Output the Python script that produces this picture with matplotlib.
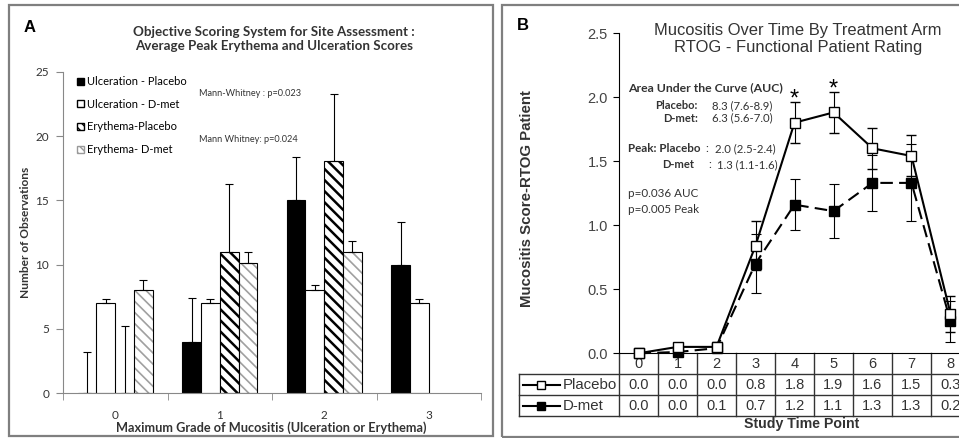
import numpy as np
import matplotlib
matplotlib.use("Agg")
import matplotlib.pyplot as plt
import matplotlib.transforms as mtransforms
from matplotlib.patches import Rectangle, Patch

# ---- data: panel A (bar chart) ----
grades = ["0", "1", "2", "3"]
ulc_placebo = [0, 4, 15, 10]
ulc_placebo_err = [3.2, 3.4, 3.4, 3.3]
ulc_dmet = [7, 7, 8, 7]
ulc_dmet_err = [0.3, 0.3, 0.4, 0.3]
ery_placebo = [0, 11, 18.1, np.nan]
ery_placebo_err = [5.2, 5.3, 5.2, np.nan]
ery_dmet = [8, 10.1, 11, np.nan]
ery_dmet_err = [0.8, 0.9, 0.8, np.nan]
bar_labels = ["Ulceration - Placebo", "Ulceration - D-met",
              "Erythema-Placebo", "Erythema- D-met"]

# ---- data: panel B (line chart + table) ----
time_points = [0, 1, 2, 3, 4, 5, 6, 7, 8]
placebo = [0.0, 0.05, 0.05, 0.84, 1.80, 1.88, 1.60, 1.54, 0.31]
placebo_err = [0.0, 0.0, 0.04, 0.19, 0.16, 0.16, 0.16, 0.16, 0.14]
dmet = [0.0, 0.01, 0.04, 0.70, 1.16, 1.11, 1.33, 1.33, 0.25]
dmet_err = [0.0, 0.0, 0.03, 0.23, 0.20, 0.21, 0.22, 0.30, 0.16]
placebo_tbl = ["0.0", "0.0", "0.0", "0.8", "1.8", "1.9", "1.6", "1.5", "0.3"]
dmet_tbl = ["0.0", "0.0", "0.1", "0.7", "1.2", "1.1", "1.3", "1.3", "0.2"]
star_points = [4, 5]

CAL = "Lato"
ARI = "Liberation Sans"
W, H = 959, 438


def fx(px):
    return px / W


def fy(py):
    return 1 - py / H


fig = plt.figure(figsize=(W / 100, H / 100), dpi=100)

# panel frames
fig.add_artist(Rectangle((fx(9), fy(436)), fx(493) - fx(9), fy(5) - fy(436),
                         transform=fig.transFigure, fill=False,
                         edgecolor="#7f7f7f", lw=1.6))
fig.add_artist(Rectangle((fx(502), fy(437)), fx(990) - fx(502), fy(5) - fy(437),
                         transform=fig.transFigure, fill=False,
                         edgecolor="#7f7f7f", lw=1.6))

# ================= Panel A =================
axA = fig.add_axes([fx(63), fy(393), fx(481) - fx(63), fy(72) - fy(393)])
x = np.arange(len(grades))
w = 0.18

pos = [x + (i - 1.5) * w for i in range(4)]
axA.bar(pos[0], ulc_placebo, w, color="black", edgecolor="black", lw=0.8)
axA.bar(pos[1], ulc_dmet, w, color="white", edgecolor="black", lw=0.8)
with plt.rc_context({"hatch.linewidth": 1.8}):
    axA.bar(pos[2], ery_placebo, w, color="white", edgecolor="black",
            lw=0.8, hatch="\\\\\\")
with plt.rc_context({"hatch.linewidth": 1.2}):
    axA.bar(pos[3], ery_dmet, w, color="white", edgecolor="#a0a0a0",
            lw=0, hatch="\\\\\\")
axA.bar(pos[3], ery_dmet, w, fill=False, edgecolor="black", lw=0.8)

for p, v, e in zip(pos, [ulc_placebo, ulc_dmet, ery_placebo, ery_dmet],
                   [ulc_placebo_err, ulc_dmet_err, ery_placebo_err, ery_dmet_err]):
    axA.errorbar(p, v, yerr=[np.zeros(len(e)), e], fmt="none", ecolor="black",
                 elinewidth=0.8, capsize=3, capthick=0.8)

axA.set_xlim(-0.5, 3.5)
axA.set_ylim(0, 25)
axA.set_xticks(x)
axA.set_xticklabels(grades, fontfamily=CAL, fontsize=8.5, color="#333333")
axA.set_xticks(np.arange(-0.5, 4, 1), minor=True)
axA.tick_params(axis="x", which="major", length=0, pad=12)
axA.tick_params(axis="x", which="minor", length=5, color="#888888")
axA.set_yticks(range(0, 26, 5))
axA.set_yticklabels([str(v) for v in range(0, 26, 5)], fontfamily=CAL,
                    fontsize=8.5, color="#333333")
axA.tick_params(axis="y", length=5, color="#888888", pad=5)
for s in ["top", "right"]:
    axA.spines[s].set_visible(False)
for s in ["left", "bottom"]:
    axA.spines[s].set_color("#888888")

handles = [Patch(facecolor="black", edgecolor="black"),
           Patch(facecolor="white", edgecolor="black"),
           Patch(facecolor="white", edgecolor="black", hatch="\\\\\\\\"),
           Patch(facecolor="white", edgecolor="#999999", hatch="\\\\\\\\")]
axA.legend(handles, bar_labels, loc="upper left", bbox_to_anchor=(0.02, 1.005),
           frameon=False, prop={"family": CAL, "size": 8},
           handlelength=0.6, handleheight=0.6, handletextpad=0.3,
           labelspacing=1.05, borderpad=0)

fig.text(fx(274), fy(39), "Objective Scoring System for Site Assessment :\n"
         "Average Peak Erythema and Ulceration Scores", ha="center", va="center",
         fontfamily=CAL, fontweight="bold", fontsize=9.6, color="#333333",
         linespacing=1.2)
fig.text(fx(30), fy(28), "A", ha="center", va="center", fontfamily=ARI,
         fontweight="bold", fontsize=12)
fig.text(fx(199), fy(94), "Mann-Whitney : p=0.023", ha="left", va="center",
         fontfamily=CAL, fontsize=6.6, color="#333333")
fig.text(fx(199), fy(139), "Mann Whitney: p=0.024", ha="left", va="center",
         fontfamily=CAL, fontsize=6.6, color="#333333")
fig.text(fx(26), fy(232), "Number of Observations", rotation=90, ha="center",
         va="center", fontfamily=CAL, fontweight="bold", fontsize=8.6,
         color="#333333")
fig.text(fx(271), fy(428), "Maximum Grade of Mucositis (Ulceration or Erythema)",
         ha="center", va="center", fontfamily=CAL, fontweight="bold",
         fontsize=9.2, color="#333333")

# ================= Panel B =================
axB = fig.add_axes([fx(619), fy(353.3), (970 - 619) / W, (353.3 - 33) / H])
axB.errorbar(time_points, dmet, yerr=dmet_err, color="black", lw=1.5,
             ls=(0, (6, 3)), marker="s", ms=7.5, mfc="black", mec="black",
             ecolor="black", elinewidth=0.8, capsize=3.5, capthick=0.8,
             clip_on=False, zorder=3)
axB.errorbar(time_points, placebo, yerr=placebo_err, color="black", lw=1.5,
             marker="s", ms=7.5, mfc="white", mec="black", mew=1,
             ecolor="black", elinewidth=0.8, capsize=3.5, capthick=0.8,
             clip_on=False, zorder=4)
axB.set_xlim(-0.5, 8.5)
axB.set_ylim(0, 2.5)
axB.set_xticks([])
axB.set_yticks(np.arange(0, 2.51, 0.5))
axB.set_yticklabels([f"{v:.1f}" for v in np.arange(0, 2.51, 0.5)],
                    fontfamily=ARI, fontsize=10.5, color="#444444")
axB.tick_params(axis="y", length=4, pad=4)
for s in ["top", "right"]:
    axB.spines[s].set_visible(False)

for t in star_points:
    top = placebo[t] + placebo_err[t]
    axB.annotate("*", (t, top), xytext=(0, -6), textcoords="offset points",
                 ha="center", va="bottom", fontfamily=ARI, fontsize=17)

# table under the plot
trans = mtransforms.blended_transform_factory(axB.transData, axB.transAxes)
rh = 21 / 320.3
left = -0.5 - 100 / 39
lkw = dict(color="#333333", lw=1, transform=trans, clip_on=False)
for k in range(len(time_points) + 1):
    axB.plot([k - 0.5, k - 0.5], [0, -3 * rh], **lkw)
for r in [1, 2, 3]:
    axB.plot([left, 8.5], [-r * rh, -r * rh], **lkw)
axB.plot([left, left], [-rh, -3 * rh], **lkw)

tkw = dict(transform=trans, ha="center", va="center", fontfamily=ARI,
           fontsize=10.5, color="#333333", clip_on=False)
for i, t in enumerate(time_points):
    axB.text(t, -0.5 * rh, str(t), **tkw)
    axB.text(t, -1.5 * rh, placebo_tbl[i], **tkw)
    axB.text(t, -2.5 * rh, dmet_tbl[i], **tkw)

for r, name, face in [(1.5, "Placebo", "white"), (2.5, "D-met", "black")]:
    axB.plot([left + 0.1, left + 0.57, left + 1.05], [-r * rh] * 3,
             color="black", lw=1.5, marker="s", ms=6, mfc=face, mec="black",
             markevery=[1], transform=trans, clip_on=False)
    axB.text(left + 1.12, -r * rh, name, transform=trans, ha="left",
             va="center", fontfamily=ARI, fontsize=10.8, color="#333333")

fig.text(fx(523), fy(25), "B", ha="center", va="center", fontfamily=ARI,
         fontweight="bold", fontsize=12)
fig.text(fx(798), fy(39), "Mucositis Over Time By Treatment Arm\n"
         "RTOG - Functional Patient Rating", ha="center", va="center",
         fontfamily=ARI, fontsize=11.9, color="#333333", linespacing=1.2)
fig.text(fx(527), fy(199), "Mucositis Score-RTOG Patient", rotation=90,
         ha="center", va="center", fontfamily=ARI, fontweight="bold",
         fontsize=10.8, color="#333333")
fig.text(fx(802), fy(424), "Study Time Point", ha="center", va="center",
         fontfamily=ARI, fontweight="bold", fontsize=10.2, color="#333333")

# AUC / peak notes
nkw = dict(va="center", fontfamily=CAL, color="#333333")
fig.text(fx(628), fy(88), "Area Under the Curve (AUC)", ha="left",
         fontweight="bold", fontsize=8.8, **nkw)
fig.text(fx(698), fy(106), "Placebo:", ha="right", fontweight="bold",
         fontsize=8, **nkw)
fig.text(fx(712), fy(106), "8.3 (7.6-8.9)", ha="left", fontsize=8.2, **nkw)
fig.text(fx(698), fy(118), "D-met:", ha="right", fontweight="bold",
         fontsize=8, **nkw)
fig.text(fx(712), fy(118), "6.3 (5.6-7.0)", ha="left", fontsize=8.2, **nkw)
fig.text(fx(628), fy(149), "Peak: Placebo", ha="left", fontweight="bold",
         fontsize=8.4, **nkw)
fig.text(fx(705), fy(149), ":", ha="left", fontsize=8.2, **nkw)
fig.text(fx(715), fy(149), "2.0 (2.5-2.4)", ha="left", fontsize=8.2, **nkw)
fig.text(fx(662), fy(165), "D-met", ha="left", fontweight="bold",
         fontsize=8, **nkw)
fig.text(fx(708), fy(165), ":", ha="left", fontsize=8.2, **nkw)
fig.text(fx(717), fy(165), "1.3 (1.1-1.6)", ha="left", fontsize=8.2, **nkw)
fig.text(fx(628), fy(194), "p=0.036 AUC", ha="left", fontsize=8.4, **nkw)
fig.text(fx(628), fy(210), "p=0.005 Peak", ha="left", fontsize=8.4, **nkw)

fig.savefig("out.png", dpi=100)
